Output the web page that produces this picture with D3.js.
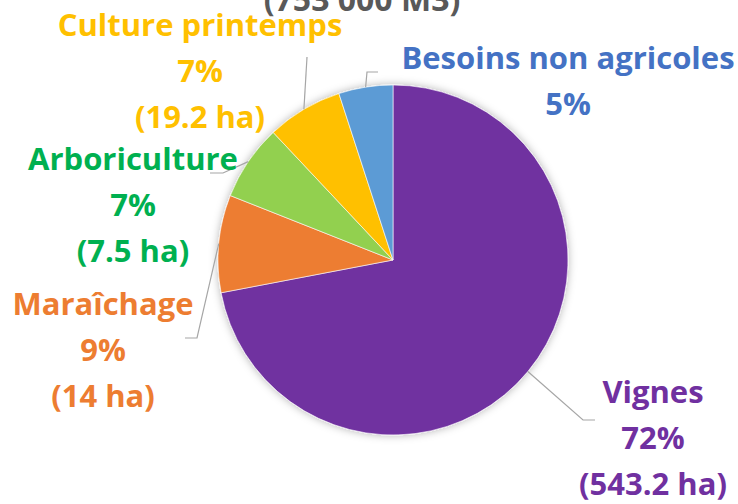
<!DOCTYPE html>
<html>
<head>
<meta charset="utf-8">
<script src="https://cdn.jsdelivr.net/npm/d3@7"></script>
<style>
  body { margin: 0; background: #fff; }
  text { font-family: "Open Sans", Lato, sans-serif; font-weight: 700; }
</style>
</head>
<body>
<div id="chart"></div>
<script>
// data
var categories = ['Vignes', 'Maraîchage', 'Arboriculture', 'Culture printemps', 'Besoins non agricoles'];
var shares = [72, 9, 7, 7, 5];
var areas = ['(543.2 ha)', '(14 ha)', '(7.5 ha)', '(19.2 ha)', null];
var sliceColors = ['#7030A0', '#ED7D31', '#92D050', '#FFC000', '#5B9BD5'];
var textColors = ['#7030A0', '#ED7D31', '#00B050', '#FFC000', '#4472C4'];
var title = '(753 000 M3)';

// label placement (center x, first baseline y, leader elbow points)
var labelPos = [
  {x: 653, y: 403, elbow: [[583, 420], [595, 420]]},
  {x: 103, y: 315, elbow: [[197, 338], [185, 338]]},
  {x: 133, y: 170, elbow: [[223, 173], [210, 173]]},
  {x: 200, y: 36, elbow: [[307, 57]]},
  {x: 568, y: 69, elbow: [[367, 72], [378, 72]]}
];

var width = 738, height = 504;
var cx = 393, cy = 260, radius = 175;
var lineH = 46;

var svg = d3.select('#chart')
  .append('svg')
  .attr('width', width)
  .attr('height', height);

// soft shadow under the pie
var defs = svg.append('defs');
var f = defs.append('filter').attr('id', 'shadow')
  .attr('x', '-20%').attr('y', '-20%').attr('width', '140%').attr('height', '140%');
f.append('feDropShadow')
  .attr('dx', 0).attr('dy', 0).attr('stdDeviation', 4)
  .attr('flood-color', '#000').attr('flood-opacity', 0.3);

var data = categories.map(function (c, i) {
  return {name: c, value: shares[i], area: areas[i], i: i};
});

var pie = d3.pie().sort(null).value(function (d) { return d.value; });
var arcs = pie(data);

var arc = d3.arc().innerRadius(0).outerRadius(radius);

var g = svg.append('g').attr('transform', 'translate(' + cx + ',' + cy + ')');

g.append('g')
  .attr('filter', 'url(#shadow)')
  .selectAll('path')
  .data(arcs)
  .enter()
  .append('path')
  .attr('d', arc)
  .attr('fill', function (d) { return sliceColors[d.data.i]; })
  .attr('stroke', '#fff')
  .attr('stroke-width', 0.6);

// leader lines from the slice mid-angle on the rim
svg.append('g')
  .selectAll('polyline')
  .data(arcs)
  .enter()
  .append('polyline')
  .attr('fill', 'none')
  .attr('stroke', '#A6A6A6')
  .attr('stroke-width', 1.2)
  .attr('points', function (d) {
    var a = (d.startAngle + d.endAngle) / 2;
    var p = [cx + Math.sin(a) * radius, cy - Math.cos(a) * radius];
    var pts = [p].concat(labelPos[d.data.i].elbow);
    return pts.map(function (q) { return q.join(','); }).join(' ');
  });

// labels
var labels = svg.append('g')
  .selectAll('text')
  .data(data)
  .enter()
  .append('text')
  .attr('text-anchor', 'middle')
  .attr('font-size', 31)
  .attr('fill', function (d) { return textColors[d.i]; });

labels.each(function (d) {
  var t = d3.select(this);
  var pos = labelPos[d.i];
  var lines = [d.name, d.value + '%'];
  if (d.area) lines.push(d.area);
  lines.forEach(function (s, k) {
    t.append('tspan')
      .attr('x', pos.x)
      .attr('y', pos.y + k * lineH)
      .text(s);
  });
});

// chart title, clipped by the top edge
svg.append('text')
  .attr('x', 362)
  .attr('y', 11)
  .attr('text-anchor', 'middle')
  .attr('font-size', 32)
  .attr('fill', '#595959')
  .text(title);
</script>
</body>
</html>
